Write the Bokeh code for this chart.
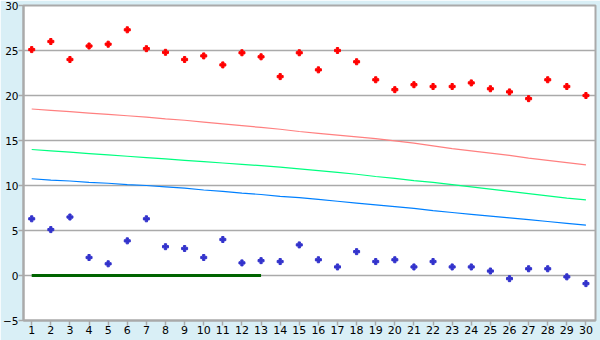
from bokeh.plotting import figure
from bokeh.models import Range1d, FixedTicker
from bokeh.embed import file_html
from bokeh.resources import INLINE

days = list(range(1, 31))
red_pts = [25.1, 26.0, 24.0, 25.5, 25.7, 27.3, 25.2, 24.8, 24.0, 24.4,
           23.4, 24.75, 24.3, 22.1, 24.75, 22.85, 25.0, 23.75, 21.75, 20.65,
           21.2, 21.0, 21.0, 21.4, 20.75, 20.4, 19.65, 21.75, 21.0, 20.0]
blue_pts = [6.3, 5.1, 6.5, 2.0, 1.3, 3.85, 6.3, 3.2, 3.0, 2.0,
            4.0, 1.4, 1.65, 1.55, 3.4, 1.75, 0.95, 2.65, 1.55, 1.75,
            0.95, 1.55, 0.95, 0.95, 0.5, -0.35, 0.75, 0.75, -0.15, -0.9]
red_line = [18.5, 18.35, 18.2, 18.05, 17.9, 17.75, 17.6, 17.4, 17.25, 17.05,
            16.85, 16.65, 16.45, 16.25, 16.0, 15.8, 15.6, 15.4, 15.2, 14.95,
            14.7, 14.4, 14.1, 13.85, 13.6, 13.35, 13.05, 12.8, 12.55, 12.3]
green_line = [14.0, 13.85, 13.7, 13.55, 13.4, 13.25, 13.1, 12.95, 12.8, 12.65,
              12.5, 12.35, 12.2, 12.05, 11.85, 11.65, 11.45, 11.25, 11.0, 10.8,
              10.55, 10.35, 10.1, 9.85, 9.6, 9.35, 9.1, 8.85, 8.6, 8.4]
blue_line = [10.75, 10.6, 10.5, 10.35, 10.25, 10.1, 10.0, 9.85, 9.7, 9.5,
             9.35, 9.15, 9.0, 8.8, 8.65, 8.45, 8.25, 8.05, 7.85, 7.65,
             7.45, 7.2, 7.0, 6.8, 6.6, 6.4, 6.2, 6.0, 5.8, 5.6]
base_x = [1, 13]
base_y = [0, 0]
y_ticks = [-5, 0, 5, 10, 15, 20, 25, 30]

BG = "#D9EFF6"
GRID = "#AAAAAA"
FONT = "DejaVu Sans"

p = figure(width=600, height=340, output_backend="svg", toolbar_location=None,
           x_range=Range1d(0.57, 30.5), y_range=Range1d(-5, 30),
           min_border_left=0, min_border_right=5, min_border_top=5,
           min_border_bottom=20)
p.background_fill_color = "white"
p.border_fill_color = BG
p.outline_line_color = GRID
p.outline_line_width = 2

p.xgrid.visible = False
p.ygrid.grid_line_color = GRID
p.ygrid.grid_line_width = 1.5
p.ygrid.ticker = FixedTicker(ticks=y_ticks)

for ax in (p.xaxis[0], p.yaxis[0]):
    ax.axis_line_color = GRID
    ax.axis_line_width = 2
    ax.major_tick_line_color = GRID
    ax.major_tick_line_width = 1.5
    ax.major_tick_out = 5
    ax.major_tick_in = 0
    ax.minor_tick_line_color = None
    ax.major_label_text_font = FONT
    ax.major_label_text_font_size = "11px"
    ax.major_label_text_color = "black"
    ax.major_label_standoff = 0

p.yaxis.major_label_text_font_size = "10.5px"
p.xaxis.ticker = FixedTicker(ticks=days)
p.yaxis.ticker = FixedTicker(ticks=y_ticks)

p.line(days, red_line, line_color="#FF8080", line_width=1.2)
p.line(days, green_line, line_color="#00FF80", line_width=1.2)
p.line(days, blue_line, line_color="#0080FF", line_width=1.2)
p.line(base_x, base_y, line_color="#006400", line_width=3)

p.scatter(days, red_pts, marker="plus", size=6, fill_color="#FF0000", line_color="#FF0000")
p.scatter(days, blue_pts, marker="plus", size=6, fill_color="#3333CC", line_color="#3333CC")

open("out.html", "w").write(file_html(p, INLINE))
